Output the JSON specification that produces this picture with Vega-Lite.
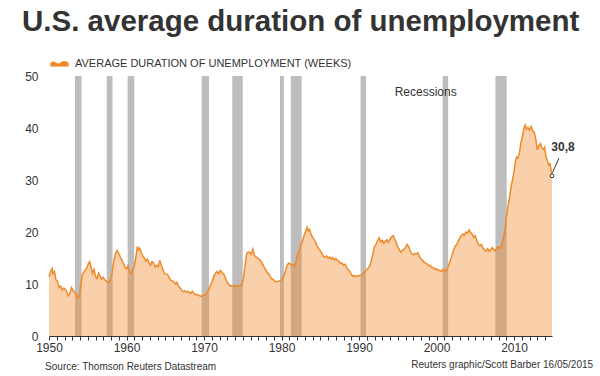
{
  "$schema": "https://vega.github.io/schema/vega-lite/v6.json",
  "autosize": {"type": "none"},
  "padding": {"left": 49, "top": 76, "right": 48, "bottom": 40},
  "width": 503,
  "height": 260,
  "background": "#ffffff",
  "config": {
    "font": "Liberation Sans",
    "view": {"stroke": null},
    "axis": {"labelFont": "Liberation Sans", "labelColor": "#333333", "labelFontSize": 12},
    "axisX": {"labelOverlap": false, "labelBound": false}
  },
  "title": {
    "text": "U.S. average duration of unemployment",
    "anchor": "start",
    "frame": "group",
    "dx": -27,
    "offset": 17,
    "fontSize": 29.5,
    "font": "Liberation Sans",
    "fontWeight": "bold",
    "color": "#333333"
  },
  "datasets": {
    "series": [
      {"year": 1950.0, "weeks": 11.4}, {"year": 1950.25, "weeks": 12.5}, {"year": 1950.4, "weeks": 13.0}, {"year": 1950.5, "weeks": 12.0}, {"year": 1950.7, "weeks": 12.4}, {"year": 1950.9, "weeks": 10.8},
      {"year": 1951.1, "weeks": 10.5}, {"year": 1951.3, "weeks": 9.3}, {"year": 1951.5, "weeks": 9.6}, {"year": 1951.7, "weeks": 8.8}, {"year": 1951.9, "weeks": 9.2},
      {"year": 1952.1, "weeks": 9.0}, {"year": 1952.3, "weeks": 8.4}, {"year": 1952.5, "weeks": 7.7}, {"year": 1952.7, "weeks": 8.2}, {"year": 1952.9, "weeks": 9.3},
      {"year": 1953.1, "weeks": 8.8}, {"year": 1953.3, "weeks": 8.4}, {"year": 1953.5, "weeks": 8.0}, {"year": 1953.7, "weeks": 7.3}, {"year": 1953.9, "weeks": 7.6},
      {"year": 1954.1, "weeks": 9.8}, {"year": 1954.3, "weeks": 11.8}, {"year": 1954.5, "weeks": 12.3}, {"year": 1954.7, "weeks": 12.8}, {"year": 1954.9, "weeks": 13.2},
      {"year": 1955.1, "weeks": 14.0}, {"year": 1955.25, "weeks": 14.3}, {"year": 1955.4, "weeks": 13.4}, {"year": 1955.6, "weeks": 12.0}, {"year": 1955.8, "weeks": 12.8},
      {"year": 1956.0, "weeks": 11.5}, {"year": 1956.2, "weeks": 11.0}, {"year": 1956.4, "weeks": 12.1}, {"year": 1956.6, "weeks": 11.5}, {"year": 1956.8, "weeks": 10.9},
      {"year": 1957.0, "weeks": 11.3}, {"year": 1957.2, "weeks": 10.8}, {"year": 1957.4, "weeks": 10.6}, {"year": 1957.6, "weeks": 10.3}, {"year": 1957.8, "weeks": 10.5},
      {"year": 1958.0, "weeks": 11.2}, {"year": 1958.2, "weeks": 12.8}, {"year": 1958.4, "weeks": 14.7}, {"year": 1958.6, "weeks": 16.0}, {"year": 1958.8, "weeks": 16.4},
      {"year": 1959.0, "weeks": 15.9}, {"year": 1959.2, "weeks": 15.2}, {"year": 1959.4, "weeks": 14.6}, {"year": 1959.6, "weeks": 14.0}, {"year": 1959.8, "weeks": 13.2},
      {"year": 1960.0, "weeks": 12.9}, {"year": 1960.2, "weeks": 13.5}, {"year": 1960.4, "weeks": 12.2}, {"year": 1960.6, "weeks": 12.0}, {"year": 1960.8, "weeks": 12.8},
      {"year": 1961.0, "weeks": 13.4}, {"year": 1961.2, "weeks": 15.0}, {"year": 1961.4, "weeks": 17.2}, {"year": 1961.55, "weeks": 16.6}, {"year": 1961.7, "weeks": 16.9}, {"year": 1961.9, "weeks": 16.0},
      {"year": 1962.1, "weeks": 15.4}, {"year": 1962.3, "weeks": 15.0}, {"year": 1962.5, "weeks": 14.4}, {"year": 1962.7, "weeks": 14.8}, {"year": 1962.9, "weeks": 14.0},
      {"year": 1963.1, "weeks": 13.6}, {"year": 1963.3, "weeks": 14.3}, {"year": 1963.5, "weeks": 14.0}, {"year": 1963.7, "weeks": 13.3}, {"year": 1963.9, "weeks": 13.6},
      {"year": 1964.1, "weeks": 13.3}, {"year": 1964.3, "weeks": 14.6}, {"year": 1964.5, "weeks": 13.5}, {"year": 1964.7, "weeks": 12.8}, {"year": 1964.9, "weeks": 12.0},
      {"year": 1965.1, "weeks": 11.9}, {"year": 1965.3, "weeks": 11.8}, {"year": 1965.5, "weeks": 11.3}, {"year": 1965.7, "weeks": 10.7}, {"year": 1965.9, "weeks": 10.6},
      {"year": 1966.1, "weeks": 10.4}, {"year": 1966.3, "weeks": 10.0}, {"year": 1966.5, "weeks": 10.3}, {"year": 1966.7, "weeks": 9.6}, {"year": 1966.9, "weeks": 9.3},
      {"year": 1967.1, "weeks": 8.8}, {"year": 1967.3, "weeks": 8.5}, {"year": 1967.5, "weeks": 8.7}, {"year": 1967.7, "weeks": 8.4}, {"year": 1967.9, "weeks": 8.6},
      {"year": 1968.1, "weeks": 8.4}, {"year": 1968.3, "weeks": 8.2}, {"year": 1968.5, "weeks": 8.6}, {"year": 1968.7, "weeks": 8.2}, {"year": 1968.9, "weeks": 7.9},
      {"year": 1969.1, "weeks": 8.0}, {"year": 1969.3, "weeks": 7.8}, {"year": 1969.5, "weeks": 7.7}, {"year": 1969.7, "weeks": 7.6}, {"year": 1969.9, "weeks": 7.9},
      {"year": 1970.1, "weeks": 7.8}, {"year": 1970.3, "weeks": 8.1}, {"year": 1970.5, "weeks": 8.6}, {"year": 1970.7, "weeks": 9.2}, {"year": 1970.9, "weeks": 10.0},
      {"year": 1971.1, "weeks": 10.7}, {"year": 1971.3, "weeks": 11.6}, {"year": 1971.5, "weeks": 12.1}, {"year": 1971.7, "weeks": 12.4}, {"year": 1971.9, "weeks": 12.0},
      {"year": 1972.1, "weeks": 12.6}, {"year": 1972.3, "weeks": 12.2}, {"year": 1972.5, "weeks": 12.0}, {"year": 1972.7, "weeks": 11.4}, {"year": 1972.9, "weeks": 10.6},
      {"year": 1973.1, "weeks": 10.2}, {"year": 1973.3, "weeks": 9.7}, {"year": 1973.5, "weeks": 9.6}, {"year": 1973.7, "weeks": 9.7}, {"year": 1973.9, "weeks": 9.6},
      {"year": 1974.1, "weeks": 9.6}, {"year": 1974.3, "weeks": 9.7}, {"year": 1974.5, "weeks": 9.6}, {"year": 1974.7, "weeks": 9.7}, {"year": 1974.9, "weeks": 9.8},
      {"year": 1975.1, "weeks": 11.3}, {"year": 1975.3, "weeks": 13.5}, {"year": 1975.5, "weeks": 15.8}, {"year": 1975.7, "weeks": 16.2}, {"year": 1975.9, "weeks": 16.1},
      {"year": 1976.1, "weeks": 15.7}, {"year": 1976.3, "weeks": 16.7}, {"year": 1976.5, "weeks": 15.5}, {"year": 1976.7, "weeks": 15.2}, {"year": 1976.9, "weeks": 15.0},
      {"year": 1977.1, "weeks": 14.8}, {"year": 1977.3, "weeks": 14.5}, {"year": 1977.5, "weeks": 14.0}, {"year": 1977.7, "weeks": 13.4}, {"year": 1977.9, "weeks": 12.9},
      {"year": 1978.1, "weeks": 12.3}, {"year": 1978.3, "weeks": 12.0}, {"year": 1978.5, "weeks": 11.6}, {"year": 1978.7, "weeks": 11.0}, {"year": 1978.9, "weeks": 10.9},
      {"year": 1979.1, "weeks": 10.6}, {"year": 1979.3, "weeks": 10.4}, {"year": 1979.5, "weeks": 10.5}, {"year": 1979.7, "weeks": 10.6}, {"year": 1979.9, "weeks": 10.7},
      {"year": 1980.1, "weeks": 10.9}, {"year": 1980.3, "weeks": 11.7}, {"year": 1980.5, "weeks": 12.5}, {"year": 1980.7, "weeks": 13.5}, {"year": 1980.9, "weeks": 14.0},
      {"year": 1981.1, "weeks": 13.9}, {"year": 1981.3, "weeks": 13.6}, {"year": 1981.5, "weeks": 13.8}, {"year": 1981.7, "weeks": 13.3}, {"year": 1981.9, "weeks": 14.5},
      {"year": 1982.1, "weeks": 15.8}, {"year": 1982.3, "weeks": 16.4}, {"year": 1982.5, "weeks": 17.6}, {"year": 1982.7, "weeks": 18.2}, {"year": 1982.9, "weeks": 19.3},
      {"year": 1983.1, "weeks": 20.1}, {"year": 1983.3, "weeks": 20.9}, {"year": 1983.45, "weeks": 20.2}, {"year": 1983.6, "weeks": 20.5}, {"year": 1983.8, "weeks": 19.6},
      {"year": 1984.0, "weeks": 19.0}, {"year": 1984.2, "weeks": 18.6}, {"year": 1984.4, "weeks": 18.0}, {"year": 1984.6, "weeks": 17.3}, {"year": 1984.8, "weeks": 16.8},
      {"year": 1985.0, "weeks": 16.4}, {"year": 1985.2, "weeks": 15.9}, {"year": 1985.4, "weeks": 15.4}, {"year": 1985.6, "weeks": 15.1}, {"year": 1985.8, "weeks": 15.4},
      {"year": 1986.0, "weeks": 15.0}, {"year": 1986.2, "weeks": 15.2}, {"year": 1986.4, "weeks": 14.8}, {"year": 1986.6, "weeks": 15.1}, {"year": 1986.8, "weeks": 14.6},
      {"year": 1987.0, "weeks": 14.9}, {"year": 1987.2, "weeks": 14.6}, {"year": 1987.4, "weeks": 14.4}, {"year": 1987.6, "weeks": 13.9}, {"year": 1987.8, "weeks": 14.0},
      {"year": 1988.0, "weeks": 13.6}, {"year": 1988.2, "weeks": 13.8}, {"year": 1988.4, "weeks": 13.2}, {"year": 1988.6, "weeks": 12.7}, {"year": 1988.8, "weeks": 12.5},
      {"year": 1989.0, "weeks": 11.9}, {"year": 1989.2, "weeks": 11.5}, {"year": 1989.4, "weeks": 11.6}, {"year": 1989.6, "weeks": 11.4}, {"year": 1989.8, "weeks": 11.6},
      {"year": 1990.0, "weeks": 11.6}, {"year": 1990.2, "weeks": 11.7}, {"year": 1990.4, "weeks": 11.8}, {"year": 1990.6, "weeks": 12.1}, {"year": 1990.8, "weeks": 12.5},
      {"year": 1991.0, "weeks": 12.8}, {"year": 1991.2, "weeks": 13.1}, {"year": 1991.4, "weeks": 13.5}, {"year": 1991.6, "weeks": 14.6}, {"year": 1991.8, "weeks": 15.9},
      {"year": 1992.0, "weeks": 17.2}, {"year": 1992.2, "weeks": 17.6}, {"year": 1992.4, "weeks": 18.4}, {"year": 1992.6, "weeks": 18.9}, {"year": 1992.8, "weeks": 18.1},
      {"year": 1993.0, "weeks": 18.4}, {"year": 1993.2, "weeks": 17.8}, {"year": 1993.4, "weeks": 18.2}, {"year": 1993.6, "weeks": 18.5}, {"year": 1993.8, "weeks": 18.0},
      {"year": 1994.0, "weeks": 18.6}, {"year": 1994.2, "weeks": 19.1}, {"year": 1994.4, "weeks": 19.3}, {"year": 1994.6, "weeks": 18.6}, {"year": 1994.8, "weeks": 18.0},
      {"year": 1995.0, "weeks": 17.1}, {"year": 1995.2, "weeks": 16.6}, {"year": 1995.4, "weeks": 16.1}, {"year": 1995.6, "weeks": 16.5}, {"year": 1995.8, "weeks": 16.7},
      {"year": 1996.0, "weeks": 17.0}, {"year": 1996.2, "weeks": 17.6}, {"year": 1996.4, "weeks": 17.2}, {"year": 1996.6, "weeks": 16.4}, {"year": 1996.8, "weeks": 15.8},
      {"year": 1997.0, "weeks": 15.6}, {"year": 1997.2, "weeks": 15.9}, {"year": 1997.4, "weeks": 15.8}, {"year": 1997.6, "weeks": 16.0}, {"year": 1997.8, "weeks": 15.3},
      {"year": 1998.0, "weeks": 14.8}, {"year": 1998.2, "weeks": 14.6}, {"year": 1998.4, "weeks": 14.2}, {"year": 1998.6, "weeks": 14.0}, {"year": 1998.8, "weeks": 13.8},
      {"year": 1999.0, "weeks": 13.5}, {"year": 1999.2, "weeks": 13.6}, {"year": 1999.4, "weeks": 13.1}, {"year": 1999.6, "weeks": 13.2}, {"year": 1999.8, "weeks": 12.8},
      {"year": 2000.0, "weeks": 12.9}, {"year": 2000.2, "weeks": 12.7}, {"year": 2000.4, "weeks": 12.6}, {"year": 2000.6, "weeks": 12.4}, {"year": 2000.8, "weeks": 12.8},
      {"year": 2001.0, "weeks": 12.6}, {"year": 2001.2, "weeks": 12.5}, {"year": 2001.4, "weeks": 13.0}, {"year": 2001.6, "weeks": 13.8}, {"year": 2001.8, "weeks": 14.5},
      {"year": 2002.0, "weeks": 15.6}, {"year": 2002.2, "weeks": 16.5}, {"year": 2002.4, "weeks": 17.3}, {"year": 2002.6, "weeks": 17.6}, {"year": 2002.8, "weeks": 18.2},
      {"year": 2003.0, "weeks": 18.9}, {"year": 2003.2, "weeks": 19.3}, {"year": 2003.4, "weeks": 19.6}, {"year": 2003.6, "weeks": 19.4}, {"year": 2003.8, "weeks": 20.0},
      {"year": 2004.0, "weeks": 19.8}, {"year": 2004.2, "weeks": 20.4}, {"year": 2004.4, "weeks": 19.9}, {"year": 2004.6, "weeks": 19.6}, {"year": 2004.8, "weeks": 19.0},
      {"year": 2005.0, "weeks": 19.3}, {"year": 2005.2, "weeks": 18.3}, {"year": 2005.4, "weeks": 17.6}, {"year": 2005.6, "weeks": 17.4}, {"year": 2005.8, "weeks": 17.6},
      {"year": 2006.0, "weeks": 16.9}, {"year": 2006.2, "weeks": 16.6}, {"year": 2006.4, "weeks": 16.3}, {"year": 2006.6, "weeks": 16.8}, {"year": 2006.8, "weeks": 16.3},
      {"year": 2007.0, "weeks": 16.6}, {"year": 2007.2, "weeks": 17.0}, {"year": 2007.4, "weeks": 16.6}, {"year": 2007.6, "weeks": 16.4}, {"year": 2007.8, "weeks": 17.0},
      {"year": 2008.0, "weeks": 17.1}, {"year": 2008.2, "weeks": 16.8}, {"year": 2008.4, "weeks": 17.5}, {"year": 2008.6, "weeks": 18.8}, {"year": 2008.8, "weeks": 20.0},
      {"year": 2009.0, "weeks": 22.6}, {"year": 2009.2, "weeks": 24.8}, {"year": 2009.4, "weeks": 26.4}, {"year": 2009.6, "weeks": 28.5}, {"year": 2009.8, "weeks": 30.0},
      {"year": 2010.0, "weeks": 31.6}, {"year": 2010.2, "weeks": 33.8}, {"year": 2010.35, "weeks": 34.4}, {"year": 2010.5, "weeks": 34.2}, {"year": 2010.7, "weeks": 35.2}, {"year": 2010.9, "weeks": 37.3},
      {"year": 2011.1, "weeks": 38.4}, {"year": 2011.3, "weeks": 40.2}, {"year": 2011.45, "weeks": 40.6}, {"year": 2011.6, "weeks": 39.8}, {"year": 2011.8, "weeks": 40.1},
      {"year": 2012.0, "weeks": 39.6}, {"year": 2012.2, "weeks": 40.3}, {"year": 2012.4, "weeks": 39.5}, {"year": 2012.6, "weeks": 39.2}, {"year": 2012.8, "weeks": 37.9},
      {"year": 2013.0, "weeks": 35.8}, {"year": 2013.2, "weeks": 36.6}, {"year": 2013.4, "weeks": 37.0}, {"year": 2013.6, "weeks": 36.1}, {"year": 2013.8, "weeks": 35.9}, {"year": 2013.95, "weeks": 36.3},
      {"year": 2014.1, "weeks": 34.6}, {"year": 2014.3, "weeks": 33.7}, {"year": 2014.5, "weeks": 32.9}, {"year": 2014.65, "weeks": 33.1}, {"year": 2014.8, "weeks": 31.7}, {"year": 2014.9, "weeks": 30.8}
    ],
    "recessions": [
      {"start": 1953.35, "end": 1954.2},
      {"start": 1957.45, "end": 1958.2},
      {"start": 1960.15, "end": 1961.0},
      {"start": 1969.7, "end": 1970.65},
      {"start": 1973.65, "end": 1975.0},
      {"start": 1979.8, "end": 1980.3},
      {"start": 1981.2, "end": 1982.6},
      {"start": 1990.2, "end": 1990.9},
      {"start": 2000.8, "end": 2001.5},
      {"start": 2007.6, "end": 2009.05}
    ],
    "last": [{"year": 2014.9, "weeks": 30.8}]
  },
  "layer": [
    {
      "data": {"name": "recessions"},
      "mark": {"type": "rect", "color": "#bdbdbd"},
      "encoding": {
        "x": {
          "field": "start", "type": "quantitative",
          "scale": {"domain": [1950, 2014.9], "nice": false, "zero": false},
          "axis": {
            "title": null,
            "values": [1950,1951,1952,1953,1954,1955,1956,1957,1958,1959,1960,1961,1962,1963,1964,1965,1966,1967,1968,1969,1970,1971,1972,1973,1974,1975,1976,1977,1978,1979,1980,1981,1982,1983,1984,1985,1986,1987,1988,1989,1990,1991,1992,1993,1994,1995,1996,1997,1998,1999,2000,2001,2002,2003,2004,2005,2006,2007,2008,2009,2010,2011,2012,2013,2014],
            "tickCount": 500,
            "labelExpr": "datum.value % 10 === 0 ? format(datum.value, 'd') : ''",
            "grid": false,
            "domainColor": "#333333",
            "tickColor": "#333333",
            "tickSize": 4,
            "labelPadding": 2,
            "labelFlush": false,
            "labelOverlap": false,
            "labelBound": false
          }
        },
        "x2": {"field": "end"},
        "y": {
          "datum": 0, "type": "quantitative",
          "scale": {"domain": [0, 50], "nice": false},
          "axis": {
            "title": null,
            "values": [0, 10, 20, 30, 40, 50],
            "tickCount": 50,
            "domain": false,
            "ticks": false,
            "labelPadding": 11,
            "gridColor": "#c4c4c4",
            "gridWidth": 1
          }
        },
        "y2": {"datum": 50}
      }
    },
    {
      "data": {"name": "series"},
      "mark": {"type": "area", "opacity": 0.4},
      "encoding": {
        "x": {"field": "year", "type": "quantitative"},
        "y": {"field": "weeks", "type": "quantitative"},
        "color": {
          "datum": "AVERAGE DURATION OF UNEMPLOYMENT (WEEKS)",
          "type": "nominal",
          "scale": {"range": ["#f08a28"]},
          "legend": {
            "title": null,
            "orient": "none",
            "legendX": 1,
            "legendY": -22,
            "symbolType": "M-1,-0.05 C-0.6,-0.45 -0.3,0.2 0,0 C0.3,-0.2 0.6,-0.35 1,-0.05 L1,0.3 L-1,0.3 Z",
            "symbolSize": 300,
            "symbolFillColor": "#f9c79a",
            "symbolStrokeColor": "#f08a28",
            "symbolStrokeWidth": 1,
            "symbolOpacity": 1,
            "labelFont": "Liberation Sans",
            "labelFontSize": 11,
            "labelColor": "#333333",
            "labelOffset": 6,
            "labelLimit": 400
          }
        }
      }
    },
    {
      "data": {"name": "series"},
      "mark": {"type": "line", "color": "#ef8a2a", "strokeWidth": 1.5},
      "encoding": {
        "x": {"field": "year", "type": "quantitative"},
        "y": {"field": "weeks", "type": "quantitative"}
      }
    },
    {
      "data": {"name": "last"},
      "mark": {"type": "rule", "color": "#333333", "strokeWidth": 1},
      "encoding": {
        "x": {"datum": 2014.95, "type": "quantitative"},
        "y": {"datum": 31.4, "type": "quantitative"},
        "x2": {"datum": 2015.8},
        "y2": {"datum": 34.2}
      }
    },
    {
      "data": {"name": "last"},
      "mark": {"type": "point", "shape": "circle", "size": 14, "filled": true, "fill": "#ffffff", "stroke": "#333333", "strokeWidth": 1, "opacity": 1},
      "encoding": {
        "x": {"field": "year", "type": "quantitative"},
        "y": {"field": "weeks", "type": "quantitative"}
      }
    },
    {
      "data": {"name": "last"},
      "mark": {"type": "text", "font": "Liberation Sans", "fontSize": 12, "fontWeight": "bold", "color": "#333333", "align": "center", "baseline": "alphabetic", "dx": 11, "dy": -25},
      "encoding": {
        "x": {"field": "year", "type": "quantitative"},
        "y": {"field": "weeks", "type": "quantitative"},
        "text": {"value": "30,8"}
      }
    },
    {
      "data": {"values": [{"label": "Recessions"}]},
      "mark": {"type": "text", "font": "Liberation Sans", "fontSize": 12, "color": "#333333", "align": "left", "baseline": "middle"},
      "encoding": {
        "x": {"datum": 1994.6, "type": "quantitative"},
        "y": {"datum": 46.9, "type": "quantitative"},
        "text": {"field": "label"}
      }
    },
    {
      "data": {"values": [{"label": "Source: Thomson Reuters Datastream"}]},
      "mark": {"type": "text", "font": "Liberation Sans", "fontSize": 10, "color": "#333333", "align": "left", "baseline": "middle"},
      "encoding": {
        "x": {"datum": 1949.5, "type": "quantitative"},
        "y": {"datum": -6.0, "type": "quantitative"},
        "text": {"field": "label"}
      }
    },
    {
      "data": {"values": [{"label": "Reuters graphic/Scott Barber 16/05/2015"}]},
      "mark": {"type": "text", "font": "Liberation Sans", "fontSize": 10, "color": "#333333", "align": "right", "baseline": "middle"},
      "encoding": {
        "x": {"datum": 2020.2, "type": "quantitative"},
        "y": {"datum": -5.6, "type": "quantitative"},
        "text": {"field": "label"}
      }
    }
  ]
}
